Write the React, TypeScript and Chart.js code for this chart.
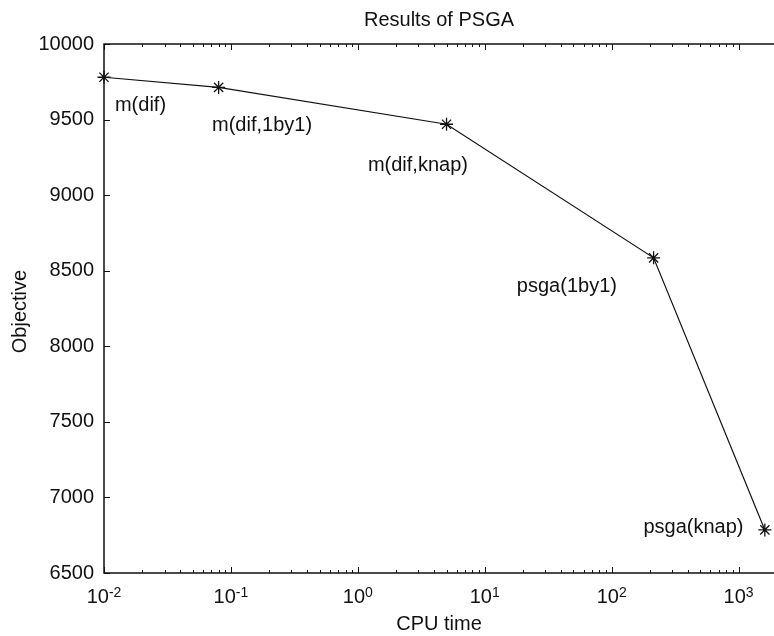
import React, { useEffect, useRef } from "react";
import { Chart, registerables } from "chart.js";

Chart.register(...registerables);

// ---- data ----
const cpuTime = [0.01, 0.08, 5, 214, 1610];
const objective = [9780, 9713, 9469, 8585, 6785];
const pointNames = ["m(dif)", "m(dif,1by1)", "m(dif,knap)", "psga(1by1)", "psga(knap)"];
// text anchors (data coordinates, left-aligned, vertically centred)
const labelX = [0.0122, 0.071, 1.2, 17.9, 178];
const labelY = [9596, 9464, 9199, 8394, 6804];

const xExponents = [-2, -1, 0, 1, 2, 3];
const yTicks = [6500, 7000, 7500, 8000, 8500, 9000, 9500, 10000];
const X_MIN = 0.01;
const X_MAX = 1650;
const Y_MIN = 6500;
const Y_MAX = 10000;

const TITLE = "Results of PSGA";
const X_TITLE = "CPU time";
const Y_TITLE = "Objective";

const FONT = '"Liberation Sans", Arial, Helvetica, sans-serif';
const INK = "#111";

const framePlugin = {
  id: "matlabFrame",
  beforeDatasetsDraw(chart: any) {
    const { ctx, chartArea, scales } = chart;
    const xs = scales.x;
    const ys = scales.y;
    const { left, top, bottom } = chartArea;
    const right = chart.width;
    ctx.save();
    ctx.strokeStyle = INK;
    // frame
    ctx.lineWidth = 1.5;
    ctx.beginPath();
    ctx.moveTo(right + 2, top);
    ctx.lineTo(left, top);
    ctx.lineTo(left, bottom);
    ctx.lineTo(right + 2, bottom);
    ctx.stroke();
    // x ticks (log, major + minor), bottom and top
    ctx.lineWidth = 1;
    ctx.beginPath();
    for (const e of xExponents) {
      for (let m = 1; m <= 9; m++) {
        const v = m * Math.pow(10, e);
        if (v < X_MIN || v > X_MAX) continue;
        const px = Math.round(xs.getPixelForValue(v)) + 0.5;
        const len = m === 1 ? 6 : 3;
        ctx.moveTo(px, bottom);
        ctx.lineTo(px, bottom - len);
        ctx.moveTo(px, top);
        ctx.lineTo(px, top + len);
      }
    }
    // y ticks
    for (const t of yTicks) {
      const py = Math.round(ys.getPixelForValue(t)) + 0.5;
      ctx.moveTo(left, py);
      ctx.lineTo(left + 6, py);
    }
    ctx.stroke();

    // y tick labels
    ctx.fillStyle = INK;
    ctx.font = `20px ${FONT}`;
    ctx.textAlign = "right";
    ctx.textBaseline = "middle";
    for (const t of yTicks) {
      ctx.fillText(String(t), left - 10, ys.getPixelForValue(t));
    }
    // x tick labels 10^e
    for (const e of xExponents) {
      const px = xs.getPixelForValue(Math.pow(10, e));
      ctx.font = `20px ${FONT}`;
      const w1 = ctx.measureText("10").width;
      ctx.font = `14px ${FONT}`;
      const sup = String(e);
      const w2 = ctx.measureText(sup).width;
      const x0 = px - (w1 + w2) / 2;
      ctx.textAlign = "left";
      ctx.textBaseline = "alphabetic";
      ctx.font = `20px ${FONT}`;
      ctx.fillText("10", x0, bottom + 30);
      ctx.font = `14px ${FONT}`;
      ctx.fillText(sup, x0 + w1, bottom + 24);
    }
    // titles
    ctx.font = `20px ${FONT}`;
    ctx.textAlign = "center";
    ctx.textBaseline = "middle";
    ctx.fillText(TITLE, (left + right) / 2, 20);
    ctx.fillText(X_TITLE, (left + right) / 2, bottom + 51);
    ctx.save();
    ctx.translate(20, (top + bottom) / 2 + 3);
    ctx.rotate(-Math.PI / 2);
    ctx.fillText(Y_TITLE, 0, 0);
    ctx.restore();
    ctx.restore();
  },
  afterDatasetsDraw(chart: any) {
    const { ctx, scales } = chart;
    ctx.save();
    ctx.fillStyle = INK;
    ctx.font = `20px ${FONT}`;
    ctx.textAlign = "left";
    ctx.textBaseline = "middle";
    pointNames.forEach((name, i) => {
      ctx.fillText(name, scales.x.getPixelForValue(labelX[i]), scales.y.getPixelForValue(labelY[i]));
    });
    ctx.restore();
  },
};

export default function App() {
  const ref = useRef<HTMLCanvasElement | null>(null);
  useEffect(() => {
    if (!ref.current) return;
    const chart = new Chart(ref.current, {
      type: "line",
      data: {
        datasets: [
          {
            data: cpuTime.map((x, i) => ({ x, y: objective[i] })),
            borderColor: INK,
            borderWidth: 1.2,
            pointStyle: "star",
            pointRadius: 6.5,
            pointBorderWidth: 1.3,
            pointBorderColor: INK,
            pointBackgroundColor: INK,
            tension: 0,
            clip: false as any,
          },
        ],
      },
      options: {
        responsive: false,
        animation: false,
        devicePixelRatio: 1,
        layout: { padding: { left: 104, top: 44, right: 0, bottom: 63 } },
        plugins: { legend: { display: false }, tooltip: { enabled: false } },
        scales: {
          x: { type: "logarithmic", min: X_MIN, max: X_MAX, display: false },
          y: { type: "linear", min: Y_MIN, max: Y_MAX, display: false },
        },
      },
      plugins: [framePlugin],
    });
    return () => chart.destroy();
  }, []);
  return (
    <div style={{ position: "absolute", left: 0, top: 0, width: 774, height: 636, background: "#fff" }}>
      <canvas ref={ref} width={774} height={636} />
    </div>
  );
}
